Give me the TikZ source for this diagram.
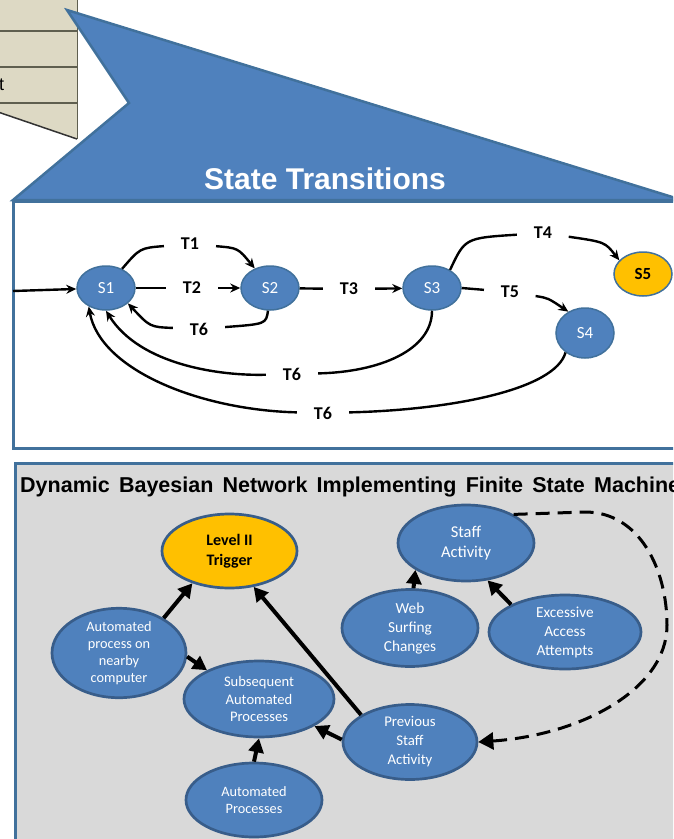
\documentclass[tikz,border=0pt]{standalone}
\usepackage{fontspec}
\setmainfont{Carlito}
\newfontfamily\headfont{Liberation Sans}
\usetikzlibrary{shapes.geometric,arrows.meta}

\definecolor{nodeblue}{HTML}{4F81BD}
\definecolor{edgeblue}{HTML}{385D8A}
\definecolor{frameblue}{HTML}{41719C}
\definecolor{gold}{HTML}{FFC000}
\definecolor{panelgray}{HTML}{D9D9D9}
\definecolor{parchment}{HTML}{DDD9C4}
\definecolor{ruleline}{HTML}{5F5F4F}

\tikzset{
  state/.style={ellipse, fill=nodeblue, draw=frameblue, line width=1.5pt, text=white,
    inner sep=0pt, minimum width=58pt, minimum height=44pt, font=\fontsize{17}{17}\selectfont},
  tlabel/.style={ellipse, fill=white, inner sep=0pt, minimum width=52pt, minimum height=38pt,
    font=\bfseries\fontsize{18}{18}\selectfont},
  tline/.style={line width=2.4pt},
  tarrow/.style={line width=2.4pt, -{Stealth[length=10pt,width=9pt]}},
  bnode/.style={ellipse, fill=nodeblue, draw=edgeblue, line width=2.7pt, text=white,
    inner sep=0pt, align=center},
  barrow/.style={line width=4pt, -{Triangle[length=14pt,width=15pt]}},
}

\begin{document}
\begin{tikzpicture}[x=1pt,y=-1pt]
\useasboundingbox (0,0) rectangle (673,839);
\clip (0,0) rectangle (673,839);

% ---- ruled table fragment, top left ----
\fill[parchment] (-2,-2) -- (77,-2) -- (77,139) -- (-2,112) -- cycle;
\foreach \yy in {31,67,103} \draw[ruleline, line width=1.5pt] (-2,\yy) -- (77,\yy);
\draw[ruleline, line width=1pt] (77,-2) -- (77,139);
\draw[black!80, line width=1.5pt] (-2,112) -- (77,139);
\node[anchor=west, inner sep=0pt, font=\headfont\fontsize{18}{18}\selectfont] (tfrag) at (-1,85) {t};

% ---- state machine panel ----
\draw[frameblue, line width=3pt, fill=white] (13,201) rectangle (690,448);

% callout pointing up to the table
\filldraw[fill=nodeblue, draw=frameblue, line width=2.5pt, line join=miter]
  (67,10) -- (682,200) -- (13,200) -- (129,103) -- cycle;
\node[text=white, font=\headfont\bfseries\fontsize{30}{30}\selectfont] (sthead) at (325,179) {State Transitions};

% states
\node[state] (S1) at (106,288) {S1};
\node[state] (S2) at (270,288) {S2};
\node[state] (S3) at (432,288) {S3};
\node[state, minimum height=50pt] (S4) at (585,333) {S4};
\node[state, fill=gold, text=black, font=\bfseries\fontsize{17}{17}\selectfont] (S5) at (643,274) {S5};

% transition labels
\node[tlabel] (t1) at (190,244) {T1};
\node[tlabel] (t2) at (192,288) {T2};
\node[tlabel] (t6a) at (199,329) {T6};
\node[tlabel] (t3) at (349,289) {T3};
\node[tlabel] (t4) at (543,233) {T4};
\node[tlabel] (t5) at (510,292) {T5};
\node[tlabel] (t6b) at (292,374) {T6};
\node[tlabel] (t6c) at (323,413) {T6};

% transitions
\coordinate (entry) at (13,291);
\draw[tarrow] (entry) -- (S1);

\draw[tline] (S1.50) .. controls (140,248) .. (t1);
\draw[tarrow] (t1) .. controls (238,248) .. (S2.128);

\draw[tline] (S1) -- (t2);
\draw[tarrow] (t2) -- (S2);

\draw[tline] (S2.-95) .. controls (266,324) .. (t6a);
\draw[tarrow] (t6a) .. controls (150,327) .. (S1.-35);

\draw[tline] (S2) -- (t3);
\draw[tarrow] (t3) -- (S3);

\draw[tline] (S3.45) .. controls (465,238) .. (t4);
\draw[tarrow] (t4) .. controls (605,242) .. (S5.150);

\draw[tline] (S3.east) -- (t5);
\draw[tarrow] (t5) .. controls (548,298) .. (S4.128);

\draw[tline] (S3.-90) .. controls (432,350) and (380,372) .. (t6b);
\draw[tarrow] (t6b) .. controls (220,376) and (140,365) .. (S1.-90);

\draw[tline] (S4.-135) .. controls (555,390) and (450,410) .. (t6c);
\draw[tarrow] (t6c) .. controls (200,410) and (100,370) .. (S1.-133);

% ---- Bayesian network panel ----
\draw[frameblue, line width=3pt, fill=panelgray] (15,463) rectangle (690,850);
\node[anchor=west, inner sep=0pt, font=\headfont\bfseries\fontsize{21.5}{22}\selectfont] (dbnhead) at (20,487)
  {\makebox[660pt][s]{Dynamic Bayesian Network Implementing Finite State Machine}};

\node[bnode, fill=gold, text=black, minimum width=135pt, minimum height=74pt,
  font=\bfseries\fontsize{16}{20}\selectfont] (lvl) at (229.5,551) {Level II\\Trigger};
\node[bnode, minimum width=136pt, minimum height=76pt, font=\fontsize{16.5}{20}\selectfont]
  (staff) at (466,543) {Staff\\Activity};
\node[bnode, minimum width=134pt, minimum height=76pt, font=\fontsize{14.3}{17}\selectfont]
  (auto) at (119,653) {Automated\\process on\\nearby\\computer};
\node[bnode, minimum width=136pt, minimum height=77pt, font=\fontsize{15.3}{19}\selectfont]
  (web) at (410,628) {Web\\Surfing\\Changes};
\node[bnode, minimum width=152pt, minimum height=74pt, font=\fontsize{15.3}{19}\selectfont]
  (exc) at (565,632) {Excessive\\Access\\Attempts};
\node[bnode, minimum width=150pt, minimum height=76pt, font=\fontsize{14.6}{17.5}\selectfont]
  (sub) at (259,699) {Subsequent\\Automated\\Processes};
\node[bnode, minimum width=134pt, minimum height=75pt, font=\fontsize{14.8}{19}\selectfont]
  (prev) at (410,742) {Previous\\Staff\\Activity};
\node[bnode, minimum width=136pt, minimum height=74pt, font=\fontsize{14.3}{16.5}\selectfont]
  (ap) at (254,800) {Automated\\Processes};

% dependencies
\draw[barrow] (auto.38) -- (lvl.-139);
\draw[barrow] (auto.-3) -- (sub.151);
\draw[barrow] (prev.151) -- (lvl.-56);
\draw[barrow] (prev.178) -- (sub.-26);
\draw[barrow] (ap.north) -- (sub.south);
\draw[barrow] (web.85) -- (staff.-152);
\draw[barrow] (exc.153) -- (staff.-60);

% temporal link back to the previous time slice
\draw[line width=3pt, dash pattern=on 14pt off 8pt, -{Triangle[length=15pt,width=17pt]}]
  (staff.31) -- (585,512) .. controls (640,512) and (667,570) .. (667,625)
  .. controls (667,690) and (580,735) .. (prev.east);
\end{tikzpicture}
\end{document}
